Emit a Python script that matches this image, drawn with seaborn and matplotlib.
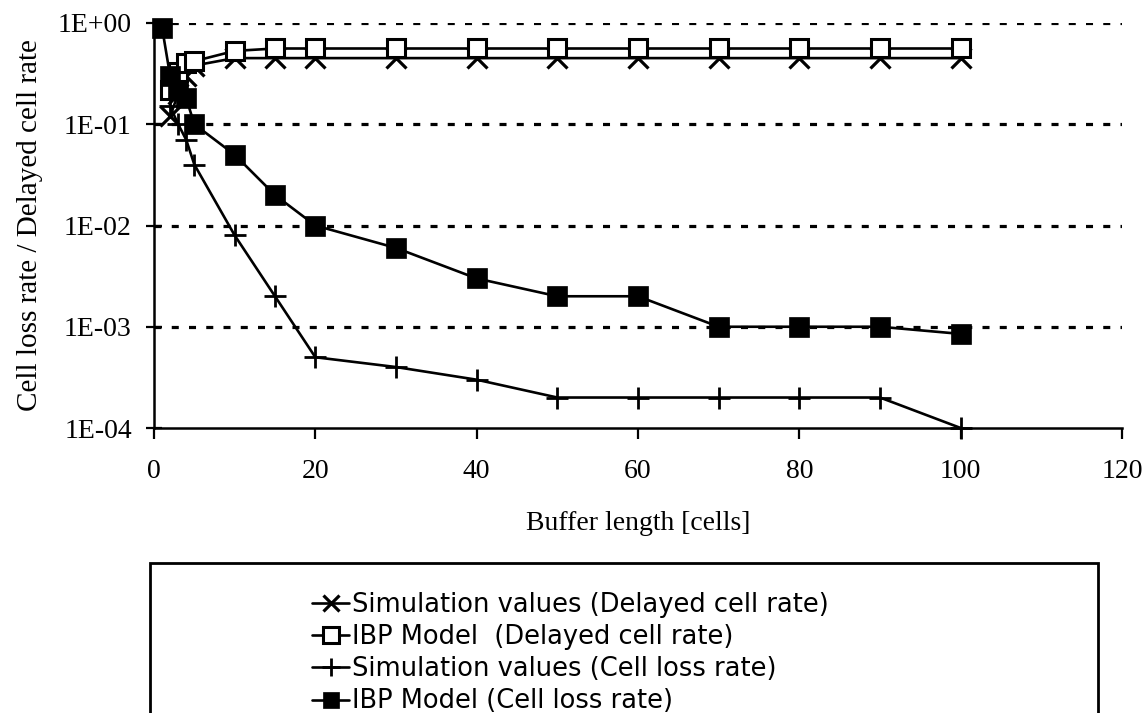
import matplotlib
matplotlib.use("Agg")
import matplotlib.pyplot as plt
import seaborn as sns
from matplotlib.patches import Rectangle
from matplotlib.ticker import FixedLocator, FuncFormatter, NullLocator

# values
sim_delay_x = [2, 3, 4, 5, 10, 15, 20, 30, 40, 50, 60, 70, 80, 90, 100]
sim_delay_y = [0.12, 0.2, 0.3, 0.38, 0.45, 0.45, 0.45, 0.45, 0.45, 0.45, 0.45, 0.45, 0.45, 0.45, 0.45]

ibp_delay_x = [2, 3, 4, 5, 10, 15, 20, 30, 40, 50, 60, 70, 80, 90, 100]
ibp_delay_y = [0.22, 0.33, 0.4, 0.42, 0.53, 0.56, 0.56, 0.56, 0.56, 0.56, 0.56, 0.56, 0.56, 0.56, 0.56]

sim_loss_x = [2, 3, 4, 5, 10, 15, 20, 30, 40, 50, 60, 70, 80, 90, 100]
sim_loss_y = [0.15, 0.1, 0.07, 0.04, 0.008, 0.002, 0.0005, 0.0004, 0.0003,
              0.0002, 0.0002, 0.0002, 0.0002, 0.0002, 0.0001]

ibp_loss_x = [1, 2, 3, 4, 5, 10, 15, 20, 30, 40, 50, 60, 70, 80, 90, 100]
ibp_loss_y = [0.9, 0.3, 0.22, 0.18, 0.1, 0.05, 0.02, 0.01, 0.006, 0.003,
              0.002, 0.002, 0.001, 0.001, 0.001, 0.00085]

labels = ["Simulation values (Delayed cell rate)",
          "IBP Model  (Delayed cell rate)",
          "Simulation values (Cell loss rate)",
          "IBP Model (Cell loss rate)"]

y_ticks = [1e-4, 1e-3, 1e-2, 1e-1, 1e0]
x_ticks = [0, 20, 40, 60, 80, 100, 120]

sns.set_theme(style="white")
plt.rcParams["font.family"] = ["Liberation Serif", "DejaVu Sans"]

W, H = 1143, 713
fig = plt.figure(figsize=(W / 100, H / 100), dpi=100)
ax = fig.add_axes([154 / W, 1 - 428 / H, (1122 - 154) / W, (428 - 23) / H])

lw = 1.9
sns.lineplot(x=sim_delay_x, y=sim_delay_y, ax=ax, color="black", lw=lw,
             marker="x", markersize=14, markeredgewidth=2.3,
             markeredgecolor="black", label=labels[0], clip_on=False)
sns.lineplot(x=ibp_delay_x, y=ibp_delay_y, ax=ax, color="black", lw=lw,
             marker="s", markersize=13, markeredgewidth=2.2,
             markerfacecolor="white", markeredgecolor="black",
             label=labels[1], clip_on=False)
sns.lineplot(x=sim_loss_x, y=sim_loss_y, ax=ax, color="black", lw=lw,
             marker="+", markersize=16, markeredgewidth=2.0,
             markeredgecolor="black", label=labels[2], clip_on=False)
sns.lineplot(x=ibp_loss_x, y=ibp_loss_y, ax=ax, color="black", lw=lw,
             marker="s", markersize=14, markeredgewidth=0.5,
             markerfacecolor="black", markeredgecolor="black",
             label=labels[3], clip_on=False)

ax.set_yscale("log")
ax.set_ylim(1e-4, 1)
ax.set_xlim(0, 120)
ax.yaxis.set_major_locator(FixedLocator(y_ticks))
ax.yaxis.set_minor_locator(NullLocator())
ax.yaxis.set_major_formatter(FuncFormatter(lambda v, p: f"{v:.0E}"))
ax.xaxis.set_major_locator(FixedLocator(x_ticks))

# dotted horizontal grid
for yv in y_ticks[1:]:
    ax.axhline(yv, color="black", lw=2.3, linestyle=(0, (2.2, 3.2)), zorder=1)

for side in ["top", "right"]:
    ax.spines[side].set_visible(False)
for side in ["left", "bottom"]:
    ax.spines[side].set_color("black")
    ax.spines[side].set_linewidth(1.8)

ax.tick_params(axis="y", direction="inout", length=12, width=1.6,
               labelsize=20, pad=10, colors="black", left=True)
ax.tick_params(axis="x", direction="out", length=8, width=1.6,
               labelsize=20, pad=14, colors="black", bottom=True)

ax.set_xlabel("Buffer length [cells]", fontsize=20, color="black")
ax.set_ylabel("Cell loss rate / Delayed cell rate", fontsize=21, color="black")
ax.xaxis.set_label_coords(0.5, -0.205)
ax.yaxis.set_label_coords(-0.115, 0.5)

if ax.get_legend() is not None:
    ax.get_legend().remove()

handles, labs = ax.get_legend_handles_labels()
leg = fig.legend(handles, labs, loc="upper left",
                 bbox_to_anchor=(312 / W, 1 - 592 / H),
                 frameon=False, borderpad=0, borderaxespad=0,
                 handlelength=1.45, handletextpad=0.1, labelspacing=0.24,
                 markerscale=0.85, labelcolor="black",
                 prop={"family": "DejaVu Sans", "size": 18.5})

box = Rectangle((150 / W, -0.05), (1098 - 150) / W, 0.05 + 1 - 563 / H,
                transform=fig.transFigure, fill=False, edgecolor="black",
                lw=2.0)
fig.add_artist(box)

fig.savefig("out.png", dpi=100, facecolor="white")
